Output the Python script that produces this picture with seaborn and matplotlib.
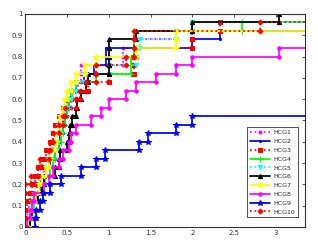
import numpy as np
import pandas as pd
import matplotlib
matplotlib.use("Agg")
import matplotlib.pyplot as plt
import seaborn as sns

# sorted sample values per group (25 samples each, 10 = outside the visible range)
hcg1 = [0.0, 0.02, 0.04, 0.1, 0.14, 0.18, 0.22, 0.28, 0.3, 0.33, 0.36, 0.4, 0.45,
        0.5, 0.55, 0.6, 0.63, 0.67, 0.67, 1.17, 1.17, 1.3, 1.81, 2.0, 10]
hcg2 = [0.05, 0.08, 0.1, 0.12, 0.18, 0.22, 0.25, 0.3, 0.35, 0.4, 0.42, 0.45, 0.47,
        0.5, 0.52, 0.55, 0.6, 0.7, 0.82, 0.97, 0.97, 2.0, 2.33, 10, 10]
hcg3 = [0.0, 0.0, 0.02, 0.05, 0.08, 0.12, 0.15, 0.2, 0.25, 0.3, 0.33, 0.35, 0.4,
        0.45, 0.5, 0.55, 0.75, 1.0, 1.3, 1.3, 1.32, 2.0, 2.0, 2.33, 10]
hcg4 = [0.04, 0.06, 0.1, 0.14, 0.2, 0.24, 0.3, 0.33, 0.36, 0.4, 0.43, 0.45, 0.47,
        0.5, 0.52, 0.56, 0.6, 0.85, 1.27, 1.27, 1.3, 1.3, 1.3, 2.59, 10]
hcg5 = [0.02, 0.05, 0.1, 0.14, 0.17, 0.22, 0.25, 0.28, 0.3, 0.35, 0.38, 0.42, 0.44,
        0.47, 0.5, 0.55, 0.6, 0.7, 1.0, 1.33, 1.33, 1.37, 1.81, 2.0, 10]
hcg6 = [0.05, 0.07, 0.08, 0.15, 0.2, 0.22, 0.35, 0.4, 0.42, 0.5, 0.52, 0.53, 0.56,
        0.6, 0.62, 0.66, 0.72, 0.75, 1.0, 1.0, 1.0, 1.0, 1.32, 2.0, 3.04]
hcg7 = [0.03, 0.06, 0.08, 0.12, 0.16, 0.2, 0.25, 0.28, 0.3, 0.35, 0.37, 0.4, 0.42,
        0.45, 0.48, 0.5, 0.55, 0.6, 0.71, 0.85, 1.32, 1.81, 1.81, 10, 10]
hcg8 = [0.02, 0.05, 0.08, 0.1, 0.22, 0.28, 0.33, 0.4, 0.45, 0.52, 0.55, 0.6, 0.78,
        0.9, 1.0, 1.2, 1.33, 1.57, 1.81, 2.0, 3.04, 10, 10, 10, 10]
hcg9 = [0.12, 0.13, 0.18, 0.21, 0.29, 0.43, 0.67, 0.85, 0.95, 1.36, 1.47, 1.81, 2.0,
        10, 10, 10, 10, 10, 10, 10, 10, 10, 10, 10, 10]
hcg10 = [0.0, 0.0, 0.0, 0.0, 0.0, 0.07, 0.15, 0.17, 0.28, 0.3, 0.33, 0.4, 0.45,
         0.47, 0.6, 0.65, 0.72, 0.85, 0.85, 1.2, 1.3, 1.3, 1.3, 2.81, 10]

names = ["HCG1", "HCG2", "HCG3", "HCG4", "HCG5", "HCG6", "HCG7", "HCG8", "HCG9", "HCG10"]
samples = [hcg1, hcg2, hcg3, hcg4, hcg5, hcg6, hcg7, hcg8, hcg9, hcg10]

colors = ["#ff00ff", "#0000ff", "#ff0000", "#00ff00", "#00ffff",
          "#000000", "#ffff00", "#ff00ff", "#0000ff", "#ff0000"]
styles = [":", "-", ":", "-", ":", "-", "-", "-", "-", ":"]
markers = [".", ".", "s", "+", "v", "^", "*", "o", "*", "D"]
msizes = [4, 3, 2.5, 4, 3, 3, 4, 2.5, 4, 2.5]

sns.set_style("white")

fig = plt.figure(figsize=(3.18, 2.44), dpi=100)
ax = fig.add_axes([0.080, 0.070, 0.879, 0.873])

for name, vals, c, ls, m, ms in zip(names, samples, colors, styles, markers, msizes):
    s = np.sort(np.array(vals, dtype=float))
    n = len(s)
    # stair vertices of the empirical cdf (matlab ecdf + stairs style)
    xs = [s[0]]
    ys = [0.0]
    for i, v in enumerate(s):
        if i > 0:
            xs.append(v)
            ys.append(i / n)
        xs.append(v)
        ys.append((i + 1) / n)
    df = pd.DataFrame({"x": xs, "y": ys})
    sns.lineplot(data=df, x="x", y="y", sort=False, estimator=None, ax=ax,
                 color=c, linestyle=ls, marker=m, markersize=ms,
                 markeredgecolor=c, markerfacecolor=c, linewidth=1.25, label=name)

ax.set_xlim(0, 3.35)
ax.set_ylim(0, 1)
ax.set_xticks([0, 0.5, 1, 1.5, 2, 2.5, 3])
ax.set_xticklabels(["0", "0.5", "1", "1.5", "2", "2.5", "3"])
ax.set_yticks(np.arange(0, 1.01, 0.1))
ax.set_yticklabels(["0", "0.1", "0.2", "0.3", "0.4", "0.5", "0.6", "0.7", "0.8", "0.9", "1"])
ax.set_xlabel("")
ax.set_ylabel("")
ax.tick_params(direction="in", length=2.5, width=0.6, labelsize=5, pad=2,
               top=True, right=True, colors="#333333")
for sp in ax.spines.values():
    sp.set_color("#333333")
    sp.set_linewidth(0.8)

leg = ax.legend(loc="lower right", fontsize=4.5, frameon=True, fancybox=False,
                edgecolor="black", handlelength=3.2, labelspacing=0.55,
                borderpad=0.45, handletextpad=0.5, bbox_to_anchor=(0.985, 0.03))
leg.get_frame().set_linewidth(0.6)

fig.savefig("out.png", dpi=100)
